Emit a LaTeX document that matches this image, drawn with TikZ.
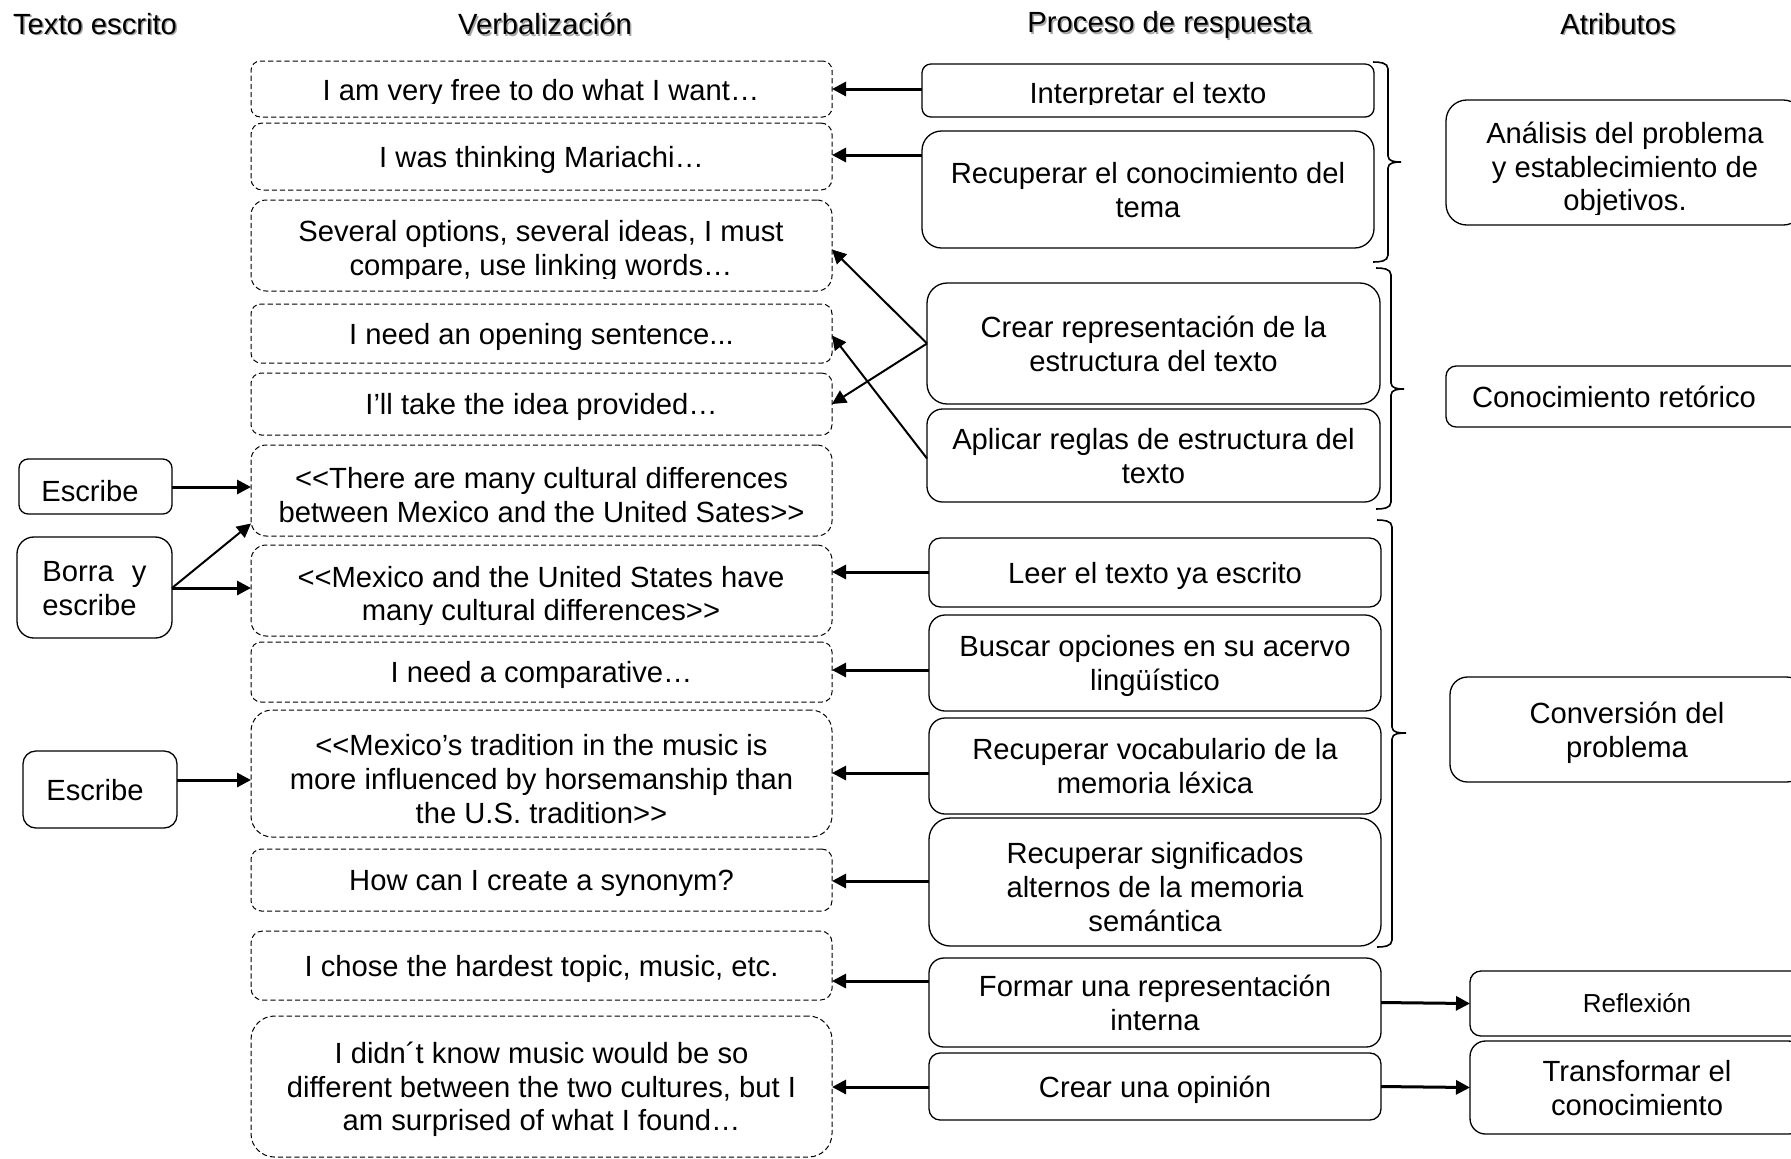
\documentclass[tikz,border=0pt]{standalone}
\usepackage{fontspec}
\setmainfont{Liberation Sans}
\usetikzlibrary{arrows.meta,calc}

% line box with the ascent and descent of the font, so text sits centred as in a text box
\newcommand\linestrut{\rule[-0.212em]{0pt}{1.15em}}
% taller first line, to set a block of text a little lower in its box
\newcommand\lowerby[1]{\rule{0pt}{#1}}
% box from its pixel corners: style, name, x1, y1, x2, y2, text
\newcommand\mkbox[7]{%
  \pgfmathsetmacro\mybw{(#5-#3)*0.5}%
  \pgfmathsetmacro\mybh{(#6-#4)*0.5}%
  \pgfmathsetmacro\mybr{min(#5-#3,#6-#4)/12}%
  \node[#1, minimum width=\mybw pt, minimum height=\mybh pt,
        rounded corners=\mybr pt] (#2) at ({(#3+#5)/2},{(#4+#6)/2})
        {\linestrut#7\linestrut};%
}
% right curly brace: hook x, spine x, tip x, top y, tip y, bottom y
\newcommand\drawbrace[6]{%
  \draw[brace] (#1,#4) to[out=0,in=90] (#2,#4+7) -- (#2,#5-6)
     to[out=-90,in=180] (#3,#5) to[out=180,in=90] (#2,#5+6)
     -- (#2,#6-7) to[out=-90,in=0] (#1,#6);%
}

\begin{document}
\begin{tikzpicture}[x=0.5pt,y=-0.5pt,
  every node/.style={font=\fontsize{14.6pt}{16.9pt}\selectfont,
                     inner sep=0pt, outer sep=0pt, align=center},
  verb/.style={draw, line width=0.5pt, dash pattern=on 2.6pt off 1.5pt},
  proc/.style={draw, line width=0.65pt},
  hdrshadow/.style={text=black!35},
  arr/.style={line width=1.5pt, -{Triangle[length=7pt,width=7pt]}},
  thinarr/.style={line width=1pt, -{Triangle[length=7pt,width=7pt]}},
  brace/.style={line width=0.8pt},
  small/.style={font=\fontsize{13pt}{15pt}\selectfont}]

\useasboundingbox (0,0) rectangle (1791,1158);

% column headings
\node[hdrshadow] (h1s) at (96.5,25.5) {Texto escrito};
\node (h1) at (95,24) {Texto escrito};
\node[hdrshadow] (h2s) at (546.5,25.5) {Verbalización};
\node (h2) at (545,24) {Verbalización};
\node[hdrshadow] (h3s) at (1171,26.5) {Proceso de respuesta};
\node (h3) at (1169.5,25) {Proceso de respuesta};
\node[hdrshadow] (h4s) at (1619.5,25.5) {Atributos};
\node (h4) at (1618,24) {Atributos};

% written text actions
\mkbox{proc}{E1}{19}{459}{172}{514}{\lowerby{1.27em}Escribe\hspace*{5.5pt}}
\mkbox{proc,align=left}{Bo}{17}{537}{172}{638}{Borra\hspace{0.62em}y\\escribe}
\mkbox{proc}{E2}{23}{751}{177}{828}{Escribe\hspace*{5pt}}

% verbalizations
\mkbox{verb}{B1}{251}{61}{832}{117}{}
\begin{scope}
  \clip (251,61) rectangle (832,103.5);
  \node[anchor=base] (B1t) at (541,100.5) {I am very free to do what I want…};
\end{scope}
\mkbox{verb}{B2}{251}{123}{832}{190}{I was thinking Mariachi…}
\mkbox{verb}{B3}{251}{200}{832}{291}{}
\node[anchor=base] (B3a) at (541,241.5) {Several options, several ideas, I must};
\begin{scope}
  \clip (251,200) rectangle (832,278);
  \node[anchor=base] (B3b) at (541,275) {compare, use linking words…};
\end{scope}
\mkbox{verb}{B4}{251}{304}{832}{363}{I need an opening sentence...}
\mkbox{verb}{B5}{251}{373}{832}{435}{I’ll take the idea provided…}
\mkbox{verb}{B6}{251}{445}{832}{536}{\lowerby{1.25em}<{}<There are many cultural differences\\between Mexico and the United Sates>{}>}
\mkbox{verb}{B7}{251}{545}{832}{636}{}
\node[anchor=base] (B7a) at (541,587) {<{}<Mexico and the United States have};
\begin{scope}
  \clip (251,545) rectangle (832,624);
  \node[anchor=base] (B7b) at (541,620.5) {many cultural differences>{}>};
\end{scope}
\mkbox{verb}{B8}{251}{642}{832}{702}{I need a comparative…}
\mkbox{verb}{B9}{251}{710}{832}{837}{\lowerby{1.29em}<{}<Mexico’s tradition in the music is\\more influenced by horsemanship than\\the U.S. tradition>{}>}
\mkbox{verb}{B10}{251}{849}{832}{911}{How can I create a synonym?}
\mkbox{verb}{B11}{251}{931}{832}{1000}{I chose the hardest topic, music, etc.}
\mkbox{verb}{B12}{251}{1016}{832}{1157}{I didn´t know music would be so\\different between the two cultures, but I\\am surprised of what I found…}

% response processes
\mkbox{proc}{P1}{922}{64}{1374}{117}{}
\begin{scope}
  \clip (922,64) rectangle (1374,104);
  \node[anchor=base] (P1t) at (1148,103) {Interpretar el texto};
\end{scope}
\mkbox{proc}{P2}{922}{131}{1374}{248}{Recuperar el conocimiento del\\tema}
\mkbox{proc}{P3}{927}{283}{1380}{404}{Crear representación de la\\estructura del texto}
\mkbox{proc}{P4}{927}{409}{1380}{502}{Aplicar reglas de estructura del\\texto}
\mkbox{proc}{P5}{929}{538}{1381}{607}{Leer el texto ya escrito}
\mkbox{proc}{P6}{929}{615}{1381}{711}{Buscar opciones en su acervo\\lingüístico}
\mkbox{proc}{P7}{929}{718}{1381}{814}{Recuperar vocabulario de la\\memoria léxica}
\mkbox{proc}{P8}{929}{818}{1381}{946}{\lowerby{1.26em}Recuperar significados\\alternos de la memoria\\semántica}
\mkbox{proc}{P9}{929}{958}{1381}{1047}{Formar una representación\\interna}
\mkbox{proc}{P10}{929}{1053}{1381}{1120}{Crear una opinión}

% braces grouping the processes
\drawbrace{1373}{1388}{1401}{62}{162}{262}
\drawbrace{1376}{1391}{1404}{268}{389}{509}
\drawbrace{1377}{1392}{1406}{520}{733}{947}

% attributes
\mkbox{proc}{A1}{1446}{100}{1804}{225}{}
\node[anchor=base] (A1a) at (1625,143.5) {Análisis del problema};
\node[anchor=base] (A1b) at (1625,177) {y establecimiento de};
\begin{scope}
  \clip (1446,100) rectangle (1791,214);
  \node[anchor=base] (A1c) at (1625,210.5) {objetivos.};
\end{scope}
\mkbox{proc}{A2}{1446}{366}{1804}{427}{}
\node (A2t) at (1614,396.5) {Conocimiento retórico};
\mkbox{proc}{A3}{1450}{677}{1804}{782}{Conversión del\\problema}
\mkbox{proc,small}{A4}{1470}{971}{1804}{1036}{Reflexión}
\mkbox{proc}{A5}{1470}{1041}{1804}{1134}{Transformar el\\conocimiento}

% arrow rows
\coordinate (r1) at (0,89);
\coordinate (r2) at (0,155);
\coordinate (r5) at (0,572);
\coordinate (r6) at (0,670);
\coordinate (r7) at (0,773);
\coordinate (r8) at (0,881);
\coordinate (r9) at (0,981);
\coordinate (r10) at (0,1087);
\coordinate (re1) at (0,487);
\coordinate (re2) at (0,588);
\coordinate (re3) at (0,780);

% processes to verbalizations
\draw[arr] (P1.west |- r1) -- (B1.east |- r1);
\draw[arr] (P2.west |- r2) -- (B2.east |- r2);
\draw[thinarr] (P3.west) -- ($(B3.east)+(0,4)$);
\draw[thinarr] (P3.west) -- (B5.east);
\draw[thinarr] ($(P4.west)+(0,3)$) -- ($(B4.east)+(0,2)$);
\draw[arr] (P5.west |- r5) -- (B7.east |- r5);
\draw[arr] (P6.west |- r6) -- (B8.east |- r6);
\draw[arr] (P7.west |- r7) -- (B9.east |- r7);
\draw[arr] (P8.west |- r8) -- (B10.east |- r8);
\draw[arr] (P9.west |- r9) -- (B11.east |- r9);
\draw[arr] (P10.west |- r10) -- (B12.east |- r10);

% written text to verbalizations
\draw[arr] (E1.east |- re1) -- (B6.west |- re1);
\draw[arr] (Bo.east |- re2) -- (B7.west |- re2);
\draw[thinarr] (Bo.east |- re2) -- ($(B6.west)+(0,33)$);
\draw[arr] (E2.east |- re3) -- (B9.west |- re3);

% processes to attributes
\draw[arr] (P9.east) -- (A4.west);
\draw[arr] (P10.east) -- (A5.west);

\end{tikzpicture}
\end{document}
